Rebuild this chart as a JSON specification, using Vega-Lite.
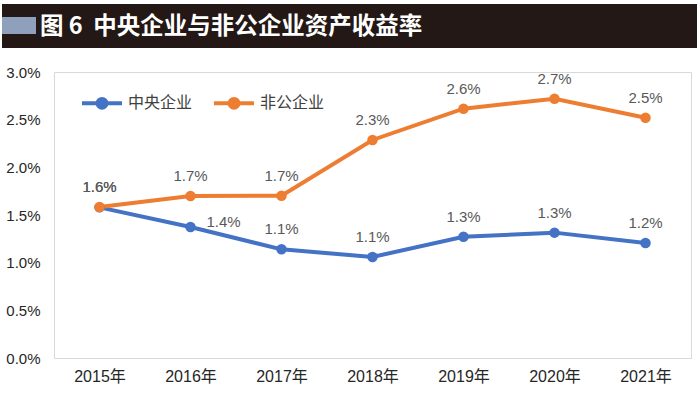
{
  "$schema": "https://vega.github.io/schema/vega-lite/v6.json",
  "width": 637,
  "height": 286,
  "autosize": {"type": "none"},
  "padding": {"left": 54, "top": 72, "right": 9, "bottom": 35},
  "background": "white",
  "config": {
    "view": {"stroke": "#d9d9d9", "strokeWidth": 1},
    "font": "Liberation Sans"
  },
  "datasets": {
    "rates": [
      {"year": "2015年", "series": "中央企业", "value": 0.0158},
      {"year": "2016年", "series": "中央企业", "value": 0.01374},
      {"year": "2017年", "series": "中央企业", "value": 0.0114},
      {"year": "2018年", "series": "中央企业", "value": 0.0106},
      {"year": "2019年", "series": "中央企业", "value": 0.01272},
      {"year": "2020年", "series": "中央企业", "value": 0.01315},
      {"year": "2021年", "series": "中央企业", "value": 0.01206},
      {"year": "2015年", "series": "非公企业", "value": 0.01584},
      {"year": "2016年", "series": "非公企业", "value": 0.0170},
      {"year": "2017年", "series": "非公企业", "value": 0.01702},
      {"year": "2018年", "series": "非公企业", "value": 0.02287},
      {"year": "2019年", "series": "非公企业", "value": 0.02615},
      {"year": "2020年", "series": "非公企业", "value": 0.0272},
      {"year": "2021年", "series": "非公企业", "value": 0.0252}
    ],
    "header": [{"title": "图 6\u00a0\u00a0中央企业与非公企业资产收益率"}]
  },
  "data": {"name": "rates"},
  "layer": [
    {
      "data": {"name": "header"},
      "mark": {"type": "rect", "color": "#231815"},
      "encoding": {"x": {"value": -52}, "x2": {"value": 643}, "y": {"value": -68}, "y2": {"value": -24}}
    },
    {
      "data": {"name": "header"},
      "mark": {"type": "rect", "color": "#8fa0bd"},
      "encoding": {"x": {"value": -52}, "x2": {"value": -18}, "y": {"value": -55}, "y2": {"value": -38}}
    },
    {
      "data": {"name": "header"},
      "mark": {"type": "text", "align": "left", "baseline": "middle", "font": "Noto Sans CJK SC", "fontSize": 23.5, "fontWeight": "bold", "color": "white"},
      "encoding": {"x": {"value": -14}, "y": {"value": -45}, "text": {"field": "title"}}
    },
    {
      "encoding": {
        "x": {
          "field": "year", "type": "ordinal",
          "scale": {"type": "point", "padding": 0.5},
          "axis": {"title": null, "labelAngle": 0, "ticks": false, "domain": true, "domainColor": "#d9d9d9", "labelFontSize": 16, "labelColor": "#262626", "labelPadding": 10, "grid": false, "labelFont": "Liberation Sans, Noto Sans CJK SC"}
        },
        "y": {
          "field": "value", "type": "quantitative",
          "scale": {"domain": [0, 0.03], "nice": false},
          "axis": {"title": null, "format": ".1%", "values": [0, 0.005, 0.01, 0.015, 0.02, 0.025, 0.03], "ticks": false, "domain": false, "grid": false, "labelFontSize": 15, "labelColor": "#262626", "labelPadding": 14}
        }
      },
      "layer": [
        {
          "mark": {"type": "line", "strokeWidth": 4, "interpolate": "linear", "point": {"filled": true, "size": 110}},
          "encoding": {
            "color": {
              "field": "series", "type": "nominal",
              "scale": {"domain": ["中央企业", "非公企业"], "range": ["#4472C4", "#ED7D31"]},
              "legend": {
                "title": null, "orient": "none", "legendX": 26, "legendY": 9, "direction": "horizontal",
                "labelFont": "Noto Sans CJK SC", "labelFontSize": 16, "labelColor": "#404040",
                "symbolType": "M-1,0H1M-0.22,0A0.22,0.22,0,1,0,0.22,0A0.22,0.22,0,1,0,-0.22,0Z",
                "symbolSize": 1600, "symbolStrokeWidth": 4, "columnPadding": 13, "labelOffset": 4,
                "encode": {"symbols": {"update": {"fill": {"field": "value", "scale": "color"}, "stroke": {"field": "value", "scale": "color"}}}}
              }
            }
          }
        },
        {
          "transform": [{"filter": "!(datum.series == '中央企业' && datum.year == '2016年')"}],
          "mark": {"type": "text", "dy": -20, "fontSize": 15, "color": "#595959"},
          "encoding": {"text": {"field": "value", "format": ".1%"}}
        },
        {
          "transform": [{"filter": "datum.series == '中央企业' && datum.year == '2016年'"}],
          "mark": {"type": "text", "align": "left", "dx": 16, "dy": -5, "fontSize": 15, "color": "#595959"},
          "encoding": {"text": {"field": "value", "format": ".1%"}}
        }
      ]
    }
  ]
}
